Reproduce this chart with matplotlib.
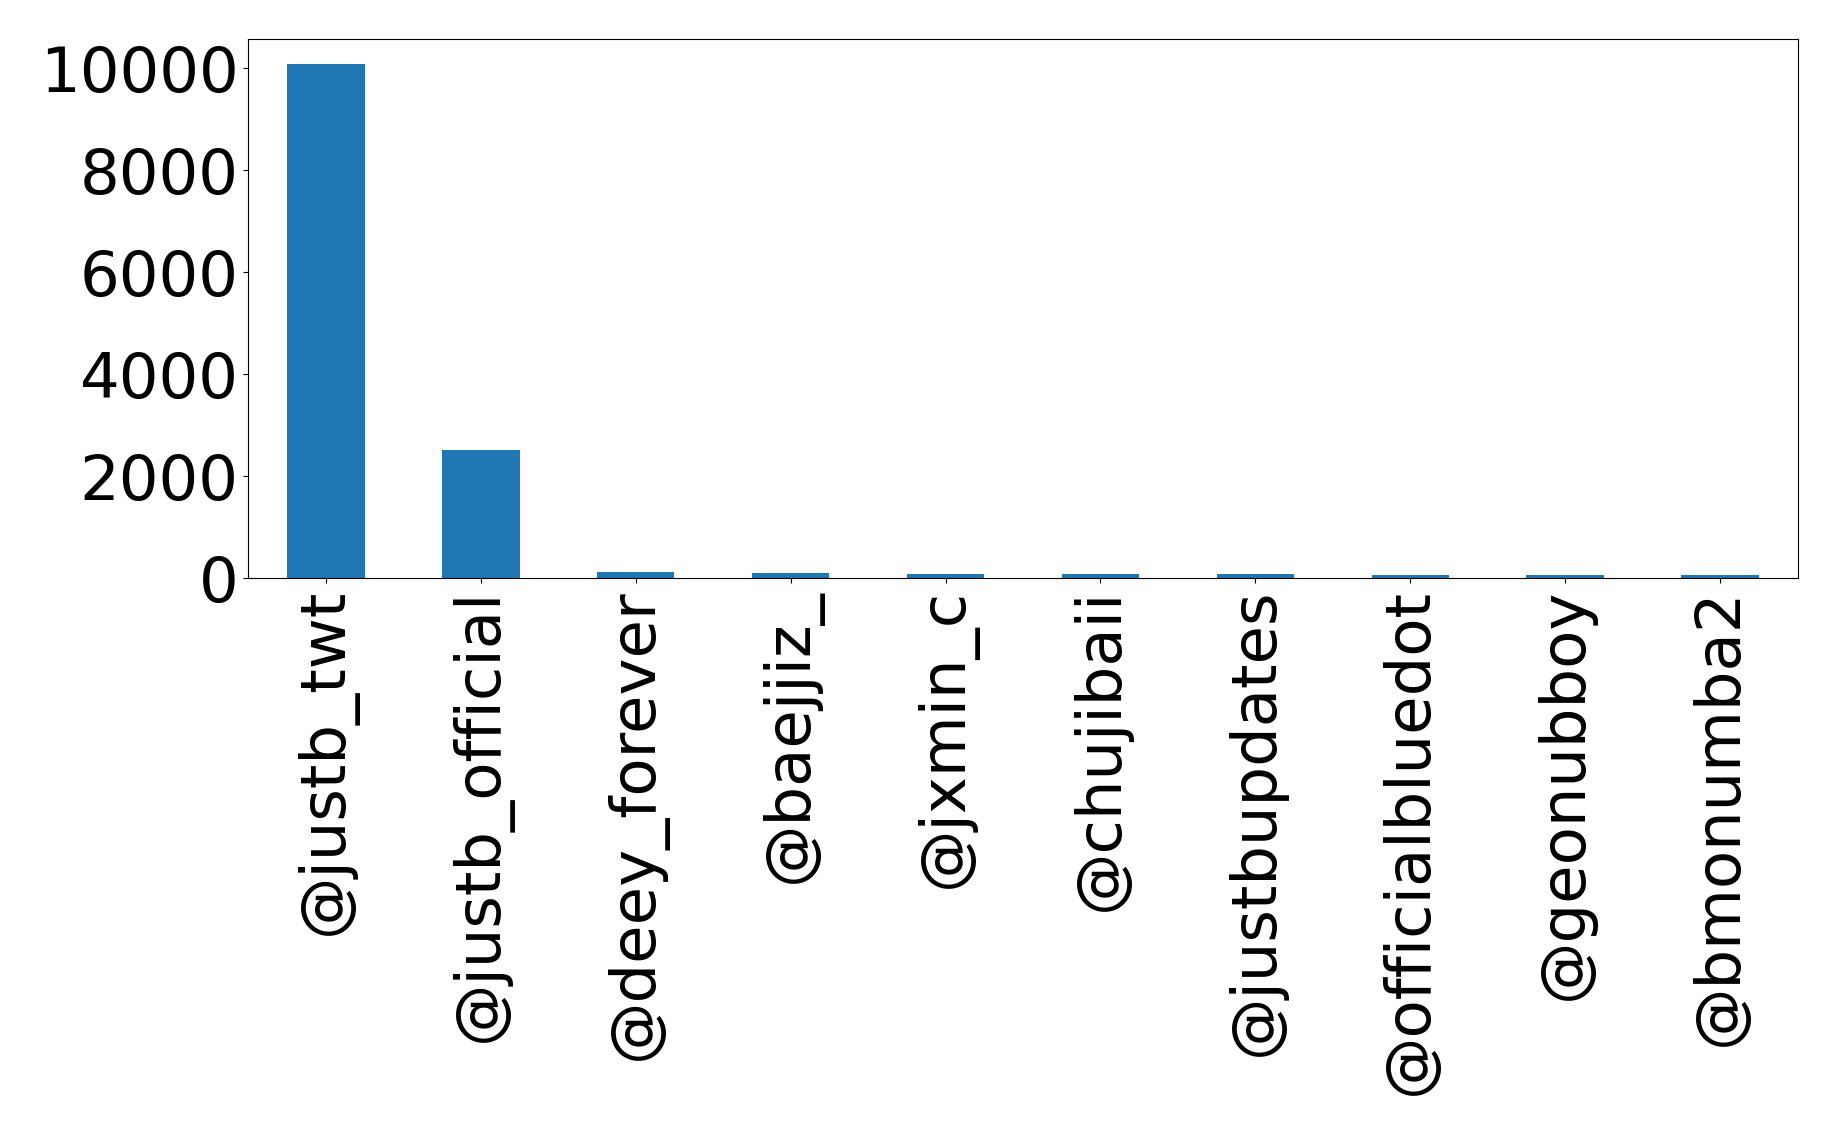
import matplotlib
matplotlib.use("Agg")
import matplotlib.pyplot as plt
import numpy as np

users = ["@justb_twt", "@justb_official", "@deey_forever", "@baejjiz_", "@jxmin_c",
         "@chujibaii", "@justbupdates", "@officialbluedot", "@geonubboy", "@bmonumba2"]
counts = [10080, 2510, 122, 102, 85, 85, 85, 65, 65, 65]

fig = plt.figure(figsize=(18.38, 11.35), dpi=100)
ax = fig.add_axes([0.1352, 0.4907, 0.978 - 0.1352, 0.966 - 0.4907])
x = np.arange(len(users))
ax.bar(x, counts, width=0.5, color="#1f77b4")
ax.set_xlim(-0.5, len(users) - 0.5)
ax.set_xticks(x)
ax.set_xticklabels(users, rotation=90, fontsize=45)
ax.tick_params(axis="y", labelsize=45)
ax.set_yticks([0, 2000, 4000, 6000, 8000, 10000])
fig.savefig("out.png", dpi=100)
